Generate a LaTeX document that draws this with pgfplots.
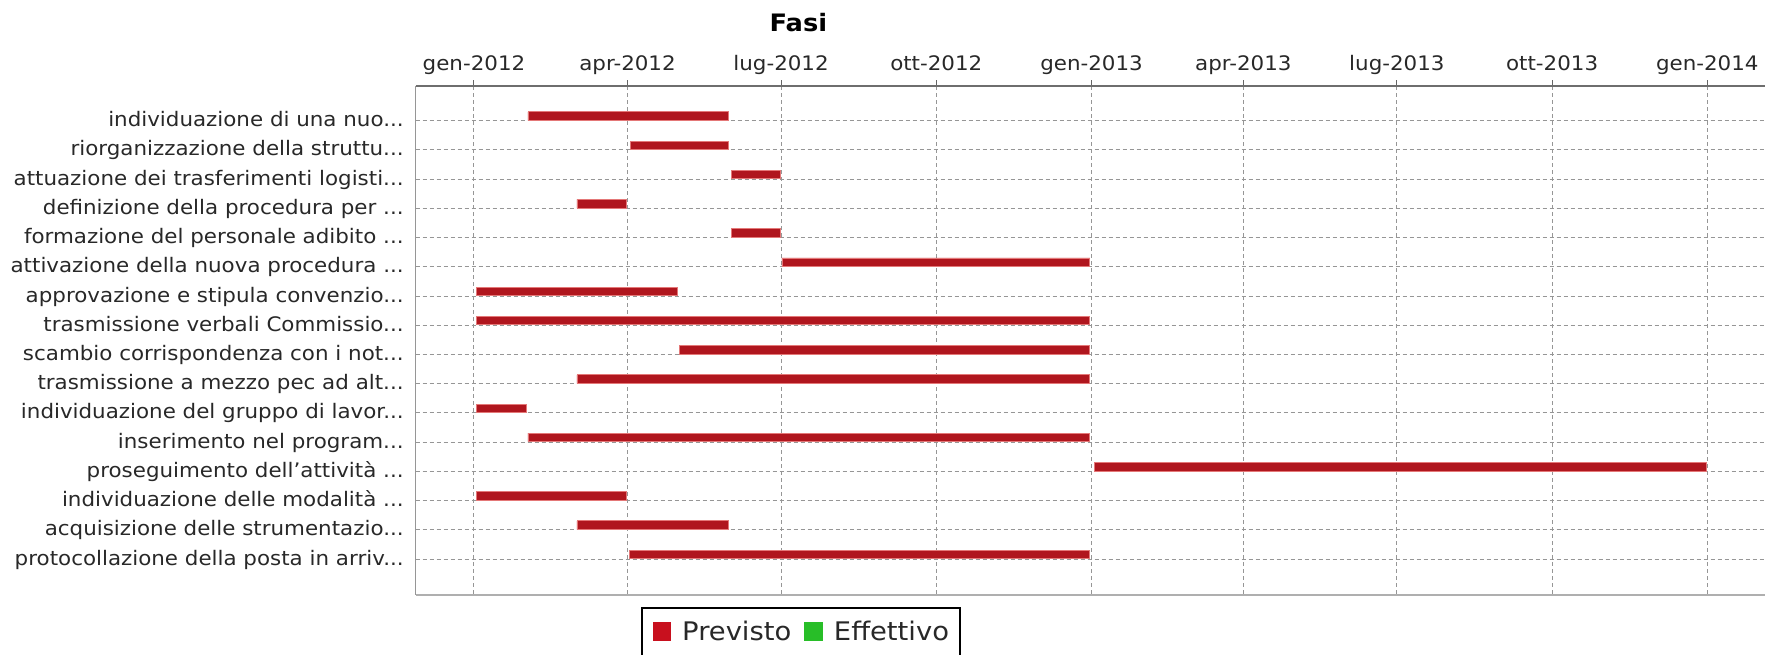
\documentclass[border=0pt]{standalone}
\usepackage{fontspec}
\setmainfont{DejaVu Sans}[FakeStretch=1.07]
\usepackage{pgfplots}
\pgfplotsset{compat=1.18}
\usepackage{pgfplotstable}

\definecolor{barred}{RGB}{176,22,30}
\definecolor{baredge}{RGB}{228,120,120}
\definecolor{legred}{RGB}{200,16,30}
\definecolor{leggreen}{RGB}{40,190,40}
\definecolor{gridgray}{RGB}{150,150,150}
\definecolor{txt}{RGB}{40,40,40}
\newcommand{\dd}{.\kern0pt.\kern0pt.}

% y = row (top to bottom), start = day from 1 Jan 2012, dur = length in days
\pgfplotstableread{
y start dur
1 32 119
2 92.5 58.5
3 152.5 29
4 61 29.5
5 152.5 29
6 182.5 182.5
7 1.5 119.2
8 1.5 363.5
9 122 243
10 61 304
11 1.5 29.5
12 32 333
13 367.5 363.2
14 1.5 88.8
15 61 90
16 92 273
}\fasi

\begin{document}
\begin{tikzpicture}
\useasboundingbox (0pt,-327pt) rectangle (882.5pt,0pt);
\begin{axis}[
  at={(207.85pt,-297.5pt)}, anchor=south west,
  scale only axis, width=674.65pt, height=254.5pt,
  xmin=-34.55, xmax=765.2, ymin=-0.1875, ymax=17.232,
  y dir=reverse, enlargelimits=false, clip=false,
  xbar stacked, bar width=0.29, bar shift=-0.16,
  axis line style={draw=none},
  xtick={0,91,182,274,366,456,547,639,731},
  xticklabels={gen-2012,apr-2012,lug-2012,ott-2012,gen-2013,apr-2013,lug-2013,ott-2013,gen-2014},
  xtick pos=upper, xticklabel pos=upper,
  tick align=outside, major tick length=3pt,
  xtick style={draw=black!60, line width=0.5pt},
  ytick={1,2,3,4,5,6,7,8,9,10,11,12,13,14,15,16},
  yticklabels={
    {individuazione di una nuo\dd},
    {riorganizzazione della struttu\dd},
    {attuazione dei trasferimenti logisti\dd},
    {definizione della procedura per \dd},
    {formazione del personale adibito \dd},
    {attivazione della nuova procedura \dd},
    {approvazione e stipula convenzio\dd},
    {trasmissione verbali Commissio\dd},
    {scambio corrispondenza con i not\dd},
    {trasmissione a mezzo pec ad alt\dd},
    {individuazione del gruppo di lavor\dd},
    {inserimento nel program\dd},
    {proseguimento dell'attività \dd},
    {individuazione delle modalità \dd},
    {acquisizione delle strumentazio\dd},
    {protocollazione della posta in arriv\dd}},
  ytick style={draw=none},
  xticklabel style={anchor=base, inner sep=0pt, yshift=4.7pt, font=\fontsize{10}{12}\selectfont, text=txt},
  yticklabel style={anchor=base east, inner sep=0pt, xshift=-2.85pt, yshift=-3pt, font=\fontsize{10}{12}\selectfont, text=txt},
  grid=major,
  major grid style={draw=gridgray, line width=0.5pt, dash pattern=on 2pt off 1.5pt},
  title={Fasi},
  title style={at={(axis description cs:0.2836,1.0839)}, anchor=base, font=\bfseries\fontsize{12}{14}\selectfont, text=black},
  legend columns=2,
  legend style={at={(axis description cs:0.16675,-0.02417)}, anchor=north west,
    draw=black, line width=0.9pt, inner xsep=5.5pt, inner ysep=6.5pt,
    font=\fontsize{12.8}{15}\selectfont, text=txt, nodes={inner sep=0pt},
    /tikz/every odd column/.append style={column sep=5.6pt},
    /tikz/every even column/.append style={column sep=6.5pt}},
]
\addlegendimage{legend image code/.code={\fill[legred] (0pt,-4.0pt) rectangle (8.3pt,4.6pt);}}
\addlegendimage{legend image code/.code={\fill[leggreen] (0pt,-4.0pt) rectangle (8.3pt,4.6pt);}}
\addplot[draw=none, fill=none] table[x=start, y=y] {\fasi};
\addplot[fill=barred, draw=baredge, line width=0.4pt] table[x=dur, y=y] {\fasi};
\legend{Previsto, Effettivo}
\end{axis}
\draw[draw={rgb,255:red,110;green,110;blue,110}, line width=0.9pt] (207.85pt,-43pt) -- (882.5pt,-43pt);
\draw[draw={rgb,255:red,150;green,150;blue,150}, line width=0.5pt] (207.85pt,-43pt) -- (207.85pt,-297.5pt);
\draw[draw={rgb,255:red,175;green,175;blue,175}, line width=0.6pt] (207.85pt,-297.5pt) -- (882.5pt,-297.5pt);
\end{tikzpicture}
\end{document}
